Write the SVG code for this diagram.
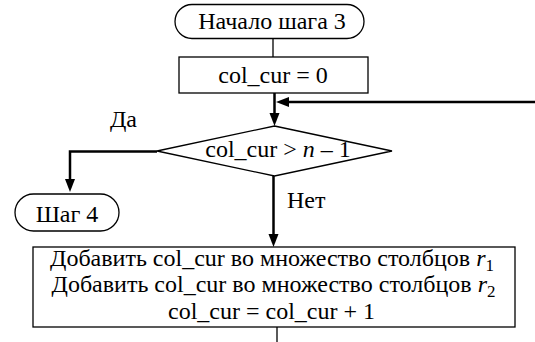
<svg xmlns="http://www.w3.org/2000/svg" width="535" height="342" viewBox="0 0 535 342" font-family="'Liberation Serif', 'DejaVu Serif', serif">
  <style>
    .shape { fill: #ffffff; stroke: #000000; stroke-width: 1.3; }
    .thin { fill: none; stroke: #000000; stroke-width: 1.3; }
    .thick { fill: none; stroke: #000000; stroke-width: 2.5; }
    .t { font-family: 'Liberation Serif', 'DejaVu Serif', serif; font-size: 24px; fill: #000000; }
    .c { text-anchor: middle; }
    .i { font-style: italic; }
  </style>
  <defs>
    <marker id="arr" markerUnits="userSpaceOnUse" markerWidth="13" markerHeight="11" refX="6" refY="5" orient="auto">
      <path d="M0,0 L13,5 L0,10 z" fill="#000000"/>
    </marker>
  </defs>

  <g id="connectors">
    <line class="thin" x1="273" y1="38.5" x2="273" y2="57"/>
    <line class="thick" x1="274.5" y1="93" x2="274.5" y2="119" marker-end="url(#arr)"/>
    <line class="thick" x1="535" y1="102" x2="283" y2="102" marker-end="url(#arr)"/>
    <polyline class="thick" points="157,151.5 70,151.5 70,185" marker-end="url(#arr)"/>
    <line class="thick" x1="273.5" y1="176" x2="273.5" y2="240" marker-end="url(#arr)"/>
    <line class="thin" x1="277" y1="327" x2="277" y2="342"/>
  </g>

  <g id="start">
    <rect class="shape" x="175" y="4.5" width="189" height="34" rx="17" ry="17"/>
    <text class="t c" x="272" y="29">Начало шага 3</text>
  </g>

  <g id="init">
    <rect class="shape" x="179" y="57" width="189" height="36"/>
    <text class="t c" x="273" y="83">col_cur = 0</text>
  </g>

  <g id="decision">
    <polygon class="shape" points="274.5,126 392,151 274.5,176 157,151"/>
    <text class="t c" x="278" y="157">col_cur &gt; <tspan class="i">n</tspan> – 1</text>
  </g>

  <g id="label-yes">
    <text class="t c" x="123.5" y="127">Да</text>
  </g>

  <g id="label-no">
    <text class="t" x="287" y="208">Нет</text>
  </g>

  <g id="step4">
    <rect class="shape" x="15" y="194" width="104" height="37" rx="18.5" ry="18.5"/>
    <text class="t c" x="67" y="222">Шаг 4</text>
  </g>

  <g id="process">
    <rect class="shape" x="33" y="247" width="482" height="80"/>
    <text class="t c" x="272" y="266">Добавить col_cur во множество столбцов <tspan class="i">r</tspan><tspan font-size="17" dy="5">1</tspan></text>
    <text class="t c" x="273.5" y="292">Добавить col_cur во множество столбцов <tspan class="i">r</tspan><tspan font-size="17" dy="5">2</tspan></text>
    <text class="t c" x="271.5" y="319">col_cur = col_cur + 1</text>
  </g>
</svg>
